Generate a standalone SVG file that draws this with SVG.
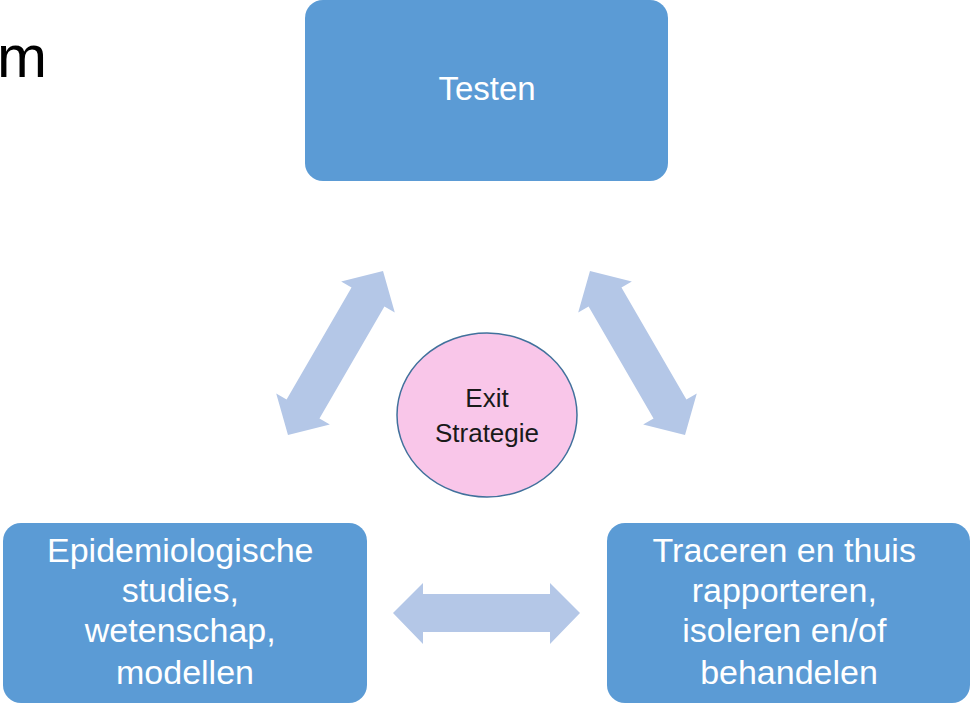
<svg xmlns="http://www.w3.org/2000/svg" width="971" height="705" viewBox="0 0 971 705">
  <defs>
    <style>
      .box { fill: #5B9BD5; }
      .boxtext { font-family: "Liberation Sans", Arial, sans-serif; fill: #FFFFFF; text-anchor: middle; }
      .arrow { fill: #B4C7E7; }
      .ctext { font-family: "Liberation Sans", Arial, sans-serif; fill: #1A1A1A; text-anchor: middle; font-size: 26px; }
    </style>
    <path id="dblarrow" d="M -94.75 0 L -64.75 -31 L -64.75 -19 L 64.75 -19 L 64.75 -31 L 94.75 0 L 64.75 31 L 64.75 19 L -64.75 19 L -64.75 31 Z"/>
  </defs>
  <rect width="971" height="705" fill="#FFFFFF"/>
  <text x="-3" y="77" font-family="Liberation Sans, Arial, sans-serif" font-size="60" fill="#000000">m</text>

  <g id="connectors">
    <use href="#dblarrow" class="arrow" transform="translate(335.5 353) rotate(-59.9)"/>
    <use href="#dblarrow" class="arrow" transform="translate(637.5 353) rotate(59.9)"/>
    <path class="arrow" d="M 393 613 L 423 583 L 423 594 L 550 594 L 550 583 L 580 613 L 550 644 L 550 632 L 423 632 L 423 644 Z"/>
  </g>

  <g id="testen">
    <rect class="box" x="305" y="0" width="363" height="181" rx="18" ry="18"/>
    <text class="boxtext" x="487" y="100" font-size="33">Testen</text>
  </g>

  <g id="exit-strategie">
    <ellipse cx="487" cy="415" rx="90" ry="82" fill="#F9C6E9" stroke="#41719C" stroke-width="1.5"/>
    <text class="ctext" x="487" y="407">Exit</text>
    <text class="ctext" x="487" y="442">Strategie</text>
  </g>

  <g id="epidemiologie">
    <rect class="box" x="3" y="523" width="364" height="180" rx="18" ry="18"/>
    <text class="boxtext" font-size="34">
      <tspan x="185" y="562">Epidemiologische</tspan>
      <tspan x="185" y="602">studies,</tspan>
      <tspan x="185" y="642">wetenschap,</tspan>
      <tspan x="185" y="684">modellen</tspan>
    </text>
  </g>

  <g id="traceren">
    <rect class="box" x="607" y="523" width="363" height="180" rx="18" ry="18"/>
    <text class="boxtext" font-size="34">
      <tspan x="789" y="562">Traceren en thuis</tspan>
      <tspan x="789" y="602">rapporteren,</tspan>
      <tspan x="789" y="642">isoleren en/of</tspan>
      <tspan x="789" y="684">behandelen</tspan>
    </text>
  </g>
</svg>
